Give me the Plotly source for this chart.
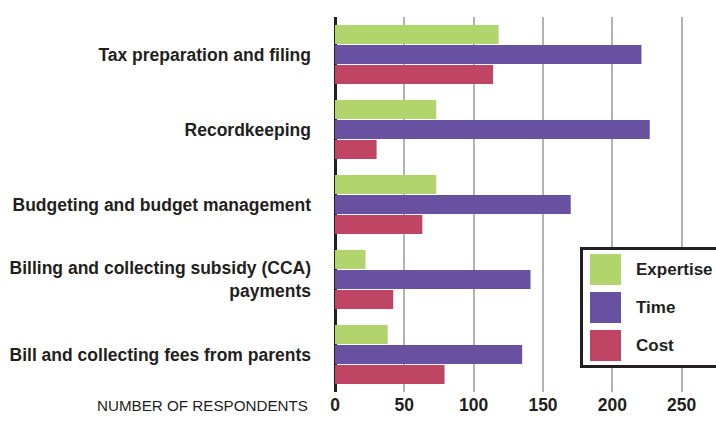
import plotly.graph_objects as go

categories = [
    "Tax preparation and filing",
    "Recordkeeping",
    "Budgeting and budget management",
    "Billing and collecting subsidy (CCA)<br>payments",
    "Bill and collecting fees from parents",
]
series_names = ["Expertise", "Time", "Cost"]
expertise = [118, 73, 73, 22, 38]
time_vals = [221, 227, 170, 141, 135]
cost = [114, 30, 63, 42, 79]
x_ticks = [0, 50, 100, 150, 200, 250]

colors = ["#b1d46c", "#6751a0", "#c04464"]
TEXT = "#231f20"
FONT = "Liberation Sans, Arial, sans-serif"

W, H = 716, 430
L, R, T, B = 335, 0, 17, 38
PW, PH = W - L - R, H - T - B


def px(x):
    return (x - L) / PW


def py(y):
    return (H - B - y) / PH


fig = go.Figure()
for name, vals, col in zip(series_names, [expertise, time_vals, cost], colors):
    fig.add_trace(go.Bar(
        y=categories, x=vals, name=name, orientation="h",
        marker=dict(color=col, line=dict(width=0)),
        showlegend=False,
    ))

shapes = []
annotations = []
# custom legend box
shapes.append(dict(type="rect", xref="paper", yref="paper",
                   x0=px(581.5), x1=px(740), y0=py(248.5), y1=py(366.5),
                   fillcolor="white", line=dict(color=TEXT, width=3), layer="above"))
for i, (name, col) in enumerate(zip(series_names, colors)):
    top = 254 + i * 38
    shapes.append(dict(type="rect", xref="paper", yref="paper",
                       x0=px(590), x1=px(621), y0=py(top), y1=py(top + 31),
                       fillcolor=col, line=dict(width=0), layer="above"))
    annotations.append(dict(xref="paper", yref="paper", x=px(634), y=py(top + 15.5),
                            xanchor="left", yanchor="middle", text="<b>%s</b>" % name,
                            showarrow=False, font=dict(family=FONT, size=17, color=TEXT)))

annotations.append(dict(xref="paper", yref="paper", x=px(310), y=py(405),
                        xanchor="right", yanchor="middle", text="NUMBER OF RESPONDENTS",
                        showarrow=False, font=dict(family=FONT, size=15.2, color=TEXT)))

fig.update_layout(
    width=W, height=H,
    margin=dict(l=L, r=R, t=T, b=B, pad=0, autoexpand=False),
    paper_bgcolor="white", plot_bgcolor="white",
    barmode="group", bargap=0.2, bargroupgap=0.05,
    font=dict(family=FONT, color=TEXT),
    shapes=shapes, annotations=annotations,
    showlegend=False,
)
fig.update_xaxes(
    range=[0, PW / (69.33 / 50)],
    tickvals=x_ticks, ticktext=["<b>%d</b>" % v for v in x_ticks],
    tickfont=dict(family=FONT, size=17.5, color=TEXT),
    showgrid=True, gridcolor="#b3b3b3", gridwidth=1.5,
    zeroline=True, zerolinecolor=TEXT, zerolinewidth=3,
    showline=False, ticks="", automargin=False,
)
fig.update_yaxes(
    autorange="reversed",
    tickvals=categories, ticktext=["<b>%s</b>" % c for c in categories],
    tickfont=dict(family=FONT, size=17.5, color=TEXT),
    showgrid=False, zeroline=False, showline=False,
    ticks="", ticklabelstandoff=23, automargin=False,
)

fig.write_html("out.html", config={"displayModeBar": False},
               post_script="document.body.style.margin='0';")
